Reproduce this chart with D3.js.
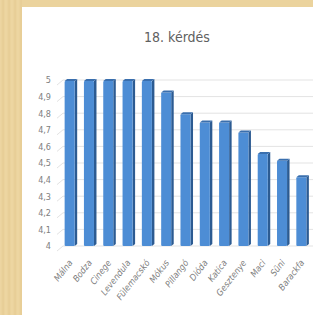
<!DOCTYPE html>
<html>
<head>
<meta charset="utf-8">
<script src="https://cdn.jsdelivr.net/npm/d3@7"></script>
<style>
  body { margin: 0; background: #fff; }
  svg { display: block; }
</style>
</head>
<body>
<div id="chart"></div>
<script>
var categories = ["Málna", "Bodza", "Cinege", "Levendula", "Fülemacskó", "Mókus", "Pillangó", "Dióda", "Katica", "Gesztenye", "Maci", "Süni", "Barackfa"];
var values = [5, 5, 5, 5, 5, 4.93, 4.8, 4.75, 4.75, 4.69, 4.56, 4.52, 4.42];
var yTicks = [4, 4.1, 4.2, 4.3, 4.4, 4.5, 4.6, 4.7, 4.8, 4.9, 5];
var chartTitle = "18. kérdés";

var svgWidth = 313;
var svgHeight = 315;
var font = "'Liberation Sans Narrow', 'DejaVu Sans Condensed', sans-serif";

var svg = d3.select("#chart")
  .append("svg")
  .attr("width", svgWidth)
  .attr("height", svgHeight);

// tan frame of the photographed slide
svg.append("rect")
  .attr("width", svgWidth)
  .attr("height", svgHeight)
  .attr("fill", "#ebd39d");

for (var i = 0; i < 22; i += 3) {
  svg.append("line")
    .attr("x1", i).attr("x2", i)
    .attr("y1", 0).attr("y2", svgHeight)
    .attr("stroke", i % 2 ? "#e3c88e" : "#f1dcab")
    .attr("stroke-width", 1)
    .attr("opacity", 0.7);
}

svg.append("rect")
  .attr("x", 22)
  .attr("y", 7)
  .attr("width", svgWidth - 22)
  .attr("height", svgHeight - 7)
  .attr("fill", "#ffffff");

var g = svg.append("g");

var x = d3.scaleBand()
  .domain(categories)
  .range([60, 311])
  .paddingInner(0.48)
  .paddingOuter(0.24);

var y = d3.scaleLinear()
  .domain([4, 5])
  .range([246, 80]);

// gridlines with a small 3D floor slant
g.selectAll(".grid")
  .data(yTicks)
  .enter()
  .append("line")
  .attr("x1", 63)
  .attr("x2", svgWidth)
  .attr("y1", d => y(d))
  .attr("y2", d => y(d))
  .attr("stroke", "#e3e3e3")
  .attr("stroke-width", 1);

g.selectAll(".slant")
  .data(yTicks)
  .enter()
  .append("line")
  .attr("x1", 57)
  .attr("x2", 63)
  .attr("y1", d => y(d) + 5)
  .attr("y2", d => y(d))
  .attr("stroke", "#e3e3e3")
  .attr("stroke-width", 1);

var yAxis = d3.axisLeft(y)
  .tickValues(yTicks)
  .tickSize(0)
  .tickPadding(0)
  .tickFormat(d => d3.format(".1~f")(d).replace(".", ","));

var yAxisG = g.append("g")
  .attr("transform", "translate(51, 0)")
  .call(yAxis);
yAxisG.select(".domain").remove();
yAxisG.selectAll("text")
  .attr("fill", "#808080")
  .attr("font-family", font)
  .attr("font-size", "9px");

// columns: front face, darker side, top cap
var bw = x.bandwidth();
var bars = g.selectAll(".bar")
  .data(values)
  .enter()
  .append("g");

bars.append("path")
  .attr("d", (d, i) => {
    var x0 = x(categories[i]) + bw;
    return "M" + x0 + "," + (y(d) + 1) + "L" + (x0 + 2.5) + "," + (y(d) - 1) +
      "L" + (x0 + 2.5) + "," + (y(4) - 2) + "L" + x0 + "," + y(4) + "Z";
  })
  .attr("fill", "#2c5b92");

bars.append("rect")
  .attr("x", (d, i) => x(categories[i]))
  .attr("y", d => y(d) + 1)
  .attr("width", bw)
  .attr("height", d => y(4) - y(d) - 1)
  .attr("rx", 1)
  .attr("fill", "#4d8dd5");

bars.append("path")
  .attr("d", (d, i) => {
    var x0 = x(categories[i]);
    return "M" + x0 + "," + (y(d) + 1) + "L" + (x0 + 2.5) + "," + (y(d) - 1) +
      "L" + (x0 + bw + 2.5) + "," + (y(d) - 1) + "L" + (x0 + bw) + "," + (y(d) + 1) + "Z";
  })
  .attr("fill", "#3a6fae");

// category labels, slanted
g.selectAll(".xlabel")
  .data(categories)
  .enter()
  .append("text")
  .attr("transform", d => `translate(${x(d) + bw / 2 + 1}, 261) rotate(-52)`)
  .attr("text-anchor", "end")
  .attr("dy", "0.35em")
  .attr("font-family", font)
  .attr("font-style", "italic")
  .attr("font-size", "9px")
  .attr("fill", "#808080")
  .text(d => d);

svg.append("text")
  .attr("x", 177)
  .attr("y", 42)
  .attr("text-anchor", "middle")
  .attr("font-family", font)
  .attr("font-size", "14px")
  .attr("fill", "#606060")
  .text(chartTitle);
</script>
</body>
</html>
